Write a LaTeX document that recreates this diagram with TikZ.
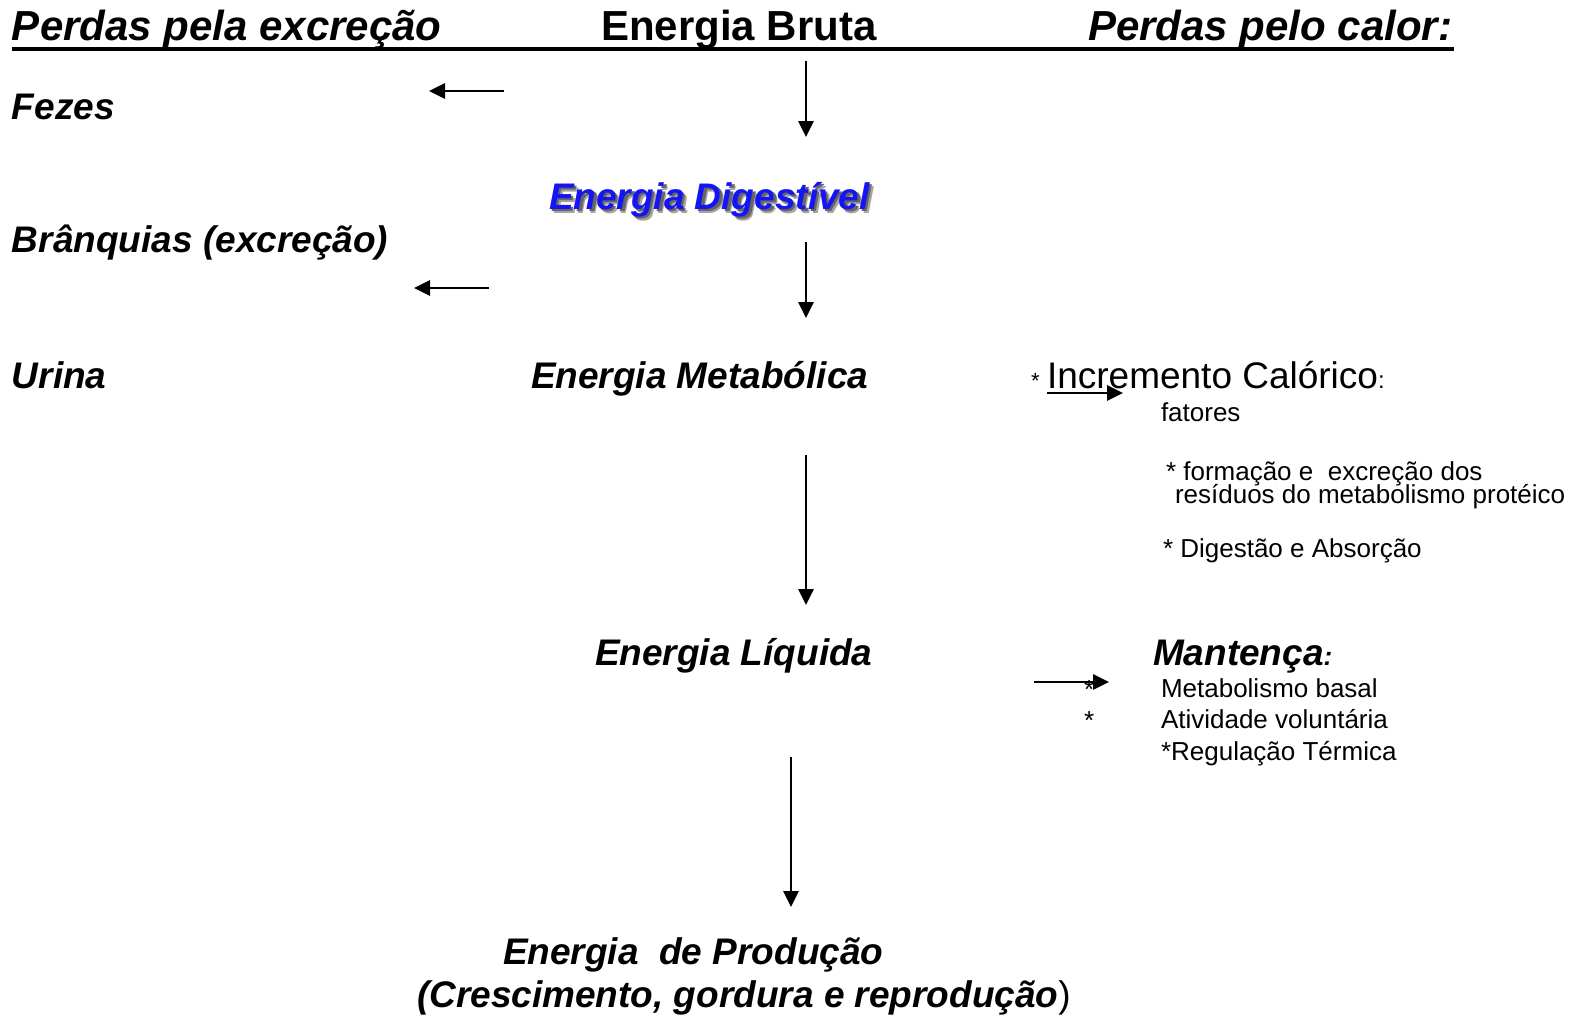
\documentclass[tikz,border=0pt]{standalone}
\usepackage{fontspec}
\setmainfont{Liberation Sans}
\usetikzlibrary{arrows.meta}
\definecolor{dblue}{RGB}{20,20,245}
\newcommand{\shadowtext}[1]{\rlap{\hspace{4pt}\raisebox{-4pt}{\color{black!35}#1}}\rlap{\hspace{2.5pt}\raisebox{-2.5pt}{\color{black!60}#1}}{\color{dblue}#1}}
\tikzset{
  lbl/.style={anchor=base west, inner sep=0pt, outer sep=0pt},
  hdr/.style={lbl, font=\fontsize{42}{50}\selectfont\bfseries},
  big/.style={lbl, font=\fontsize{37}{44}\selectfont\bfseries\itshape},
  sml/.style={lbl, font=\fontsize{26}{30}\selectfont},
  arr/.style={line width=2.7pt, -{Triangle[length=16pt,width=15pt]}}
}
\begin{document}
\begin{tikzpicture}[x=1pt,y=-1pt]
\useasboundingbox[fill=white] (0,0) rectangle (1579,1015);
% header
\node[hdr, font=\fontsize{42}{50}\selectfont\bfseries\itshape] (h1) at (12,40) {Perdas pela excreção};
\node[hdr] (h2) at (601,40) {Energia Bruta};
\node[hdr, font=\fontsize{42}{50}\selectfont\bfseries\itshape] (h3) at (1088,40) {Perdas pelo calor:};
\coordinate (ulA) at (12,49);
\coordinate (ulB) at (1454,49);
\draw[line width=4pt] (ulA) -- (ulB);
% left labels
\node[big] (fez) at (12,119) {Fezes};
\node[big] (bra) at (12,252) {Brânquias (excreção)};
\node[big] (uri) at (12,388) {Urina};
% center labels
\node[big] (dig) at (549,209) {\shadowtext{Energia Digestível}};
\node[big] (met) at (531,388) {Energia Metabólica};
\node[big] (liq) at (595,665) {Energia Líquida};
\node[big] (pro) at (503,964) {Energia\ \ de Produção};
\node[big] (cre) at (417,1007) {(Crescimento, gordura e reprodução{\mdseries\upshape)}};
% right: incremento
\node[lbl, font=\fontsize{22}{26}\selectfont] (ast1) at (1031,388) {*};
\node[lbl, font=\fontsize{37}{44}\selectfont] (inc) at (1047,388) {Incremento Calórico{\fontsize{24}{28}\selectfont:}};
\node[sml] (fat) at (1161,421) {fatores};
\node[sml] (f1) at (1166,480) {* formação e \ excreção dos};
\node[sml] (f2) at (1175,503) {resíduos do metabolismo protéico};
\node[sml] (f3) at (1163,557) {* Digestão e Absorção};
% right: mantenca
\node[big] (man) at (1153,665) {Mantença{\fontsize{26}{30}\selectfont:}};
\node[sml] (as2) at (1084,698) {*};
\node[sml] (m1) at (1161,697) {Metabolismo basal};
\node[sml] (as3) at (1084,729) {*};
\node[sml] (m2) at (1161,728) {Atividade voluntária};
\node[sml] (m3) at (1161,760) {*Regulação Térmica};
% arrow coordinates
\coordinate (a1s) at (806,61);  \coordinate (a1e) at (806,137);
\coordinate (a2s) at (806,242); \coordinate (a2e) at (806,318);
\coordinate (a3s) at (806,455); \coordinate (a3e) at (806,605);
\coordinate (a4s) at (791,757); \coordinate (a4e) at (791,907);
\coordinate (b1s) at (504,91);  \coordinate (b1e) at (429,91);
\coordinate (b2s) at (489,288); \coordinate (b2e) at (414,288);
\coordinate (c1s) at (1047,393); \coordinate (c1e) at (1123,393);
\coordinate (c2s) at (1034,682); \coordinate (c2e) at (1109,682);
\draw[arr] (a1s) -- (a1e);
\draw[arr] (a2s) -- (a2e);
\draw[arr] (a3s) -- (a3e);
\draw[arr] (a4s) -- (a4e);
\draw[arr] (b1s) -- (b1e);
\draw[arr] (b2s) -- (b2e);
\draw[arr] (c1s) -- (c1e);
\draw[arr] (c2s) -- (c2e);
\end{tikzpicture}
\end{document}
